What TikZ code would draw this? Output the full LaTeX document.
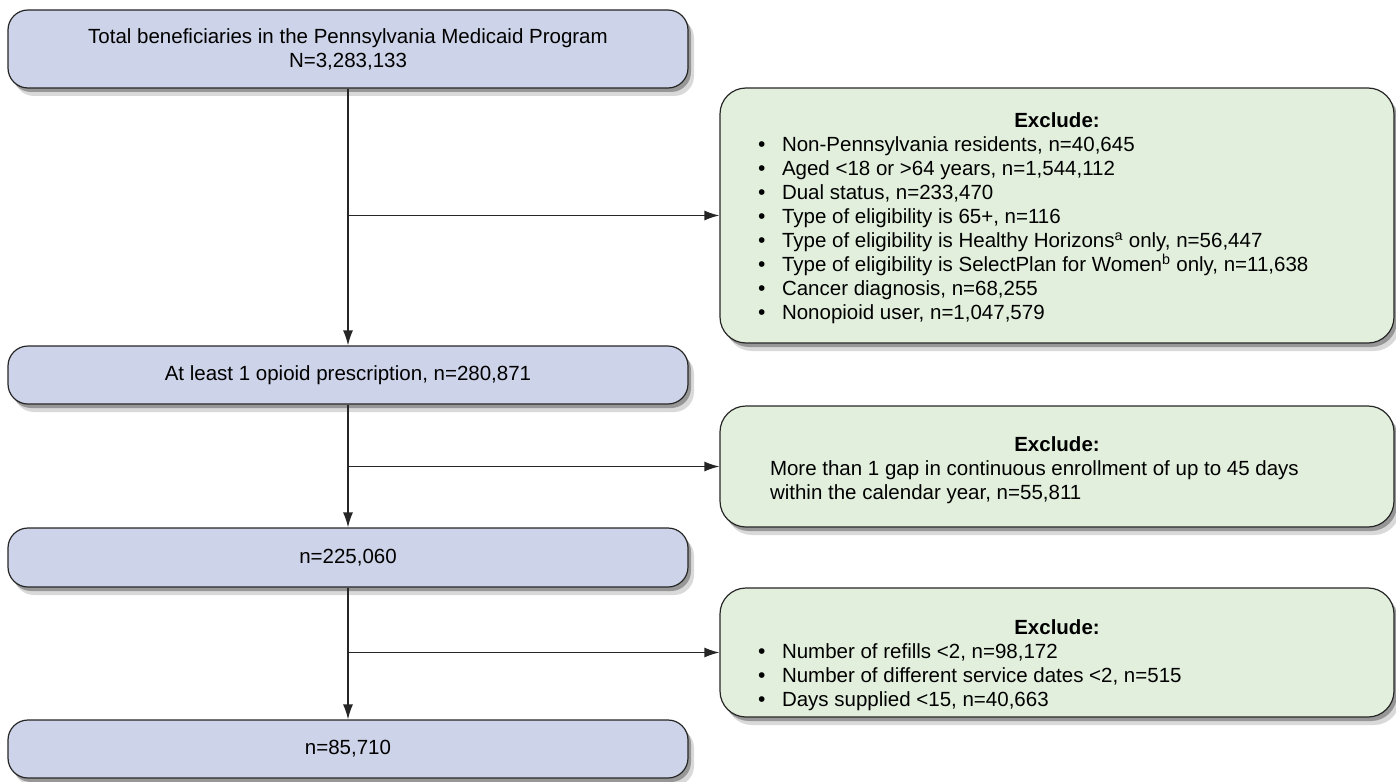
\documentclass[tikz,border=0pt]{standalone}
\usepackage{fontspec}
\setmainfont{Liberation Sans}
\usepackage{xcolor}
\usetikzlibrary{arrows.meta,shadows}

\definecolor{boxblue}{RGB}{205,211,232}
\definecolor{boxgreen}{RGB}{226,239,221}
\definecolor{edgegray}{RGB}{38,38,38}

\newcommand{\exitem}[1]{\makebox[598pt][l]{\makebox[24pt][l]{{\fontsize{21}{21}\selectfont\textbullet}}#1}}
\newcommand{\exline}[1]{\makebox[574pt][l]{#1}}

\begin{document}
\begin{tikzpicture}[x=1pt,y=-1pt,>={Latex[length=15pt,width=10pt]},
    every node/.style={font=\fontsize{20.5}{24}\selectfont},
    softshadow/.style={
      drop shadow={shadow xshift=3pt,shadow yshift=-4pt,fill=black,opacity=0.3},
      drop shadow={shadow xshift=6pt,shadow yshift=-8pt,fill=black,opacity=0.15}},
    flowbox/.style={draw=edgegray,line width=1.2pt,fill=boxblue,rounded corners=20pt,
      minimum width=680pt,inner sep=0pt,align=center,softshadow},
    exclbox/.style={draw=edgegray,line width=1.2pt,fill=boxgreen,rounded corners=26pt,
      minimum width=674pt,inner sep=0pt,align=center,softshadow},
    link/.style={draw=edgegray,line width=1.4pt}]
  \useasboundingbox (0,0) rectangle (1396,781);

  % main column
  \node[flowbox,minimum height=78pt] (total) at (348,49)
    {Total beneficiaries in the Pennsylvania Medicaid Program\\N=3,283,133};
  \node[flowbox,minimum height=58pt] (opioid) at (348,375)
    {At least 1 opioid prescription, n=280,871};
  \node[flowbox,minimum height=59pt] (enrolled) at (348,557.5)
    {n=225,060};
  \node[flowbox,minimum height=58pt] (final) at (348,749)
    {n=85,710};

  % exclusions
  \node[exclbox,minimum height=255pt] (excl1) at (1057,215.5)
    {\rule{0pt}{21pt}\textbf{Exclude:}\\
     \exitem{Non-Pennsylvania residents, n=40,645}\\
     \exitem{Aged <18 or >64 years, n=1,544,112}\\
     \exitem{Dual status, n=233,470}\\
     \exitem{Type of eligibility is 65+, n=116}\\
     \exitem{Type of eligibility is Healthy Horizons\textsuperscript{a} only, n=56,447}\\
     \exitem{Type of eligibility is SelectPlan for Women\textsuperscript{b} only, n=11,638}\\
     \exitem{Cancer diagnosis, n=68,255}\\
     \exitem{Nonopioid user, n=1,047,579}};
  \node[exclbox,minimum height=121pt] (excl2) at (1057,466.5)
    {\rule{0pt}{23pt}\textbf{Exclude:}\\
     \exline{More than 1 gap in continuous enrollment of up to 45 days}\\
     \exline{within the calendar year, n=55,811}};
  \node[exclbox,minimum height=129pt] (excl3) at (1057,652.5)
    {\rule{0pt}{40pt}\textbf{Exclude:}\\
     \exitem{Number of refills <2, n=98,172}\\
     \exitem{Number of different service dates <2, n=515}\\
     \exitem{Days supplied <15, n=40,663}};

  \coordinate (j1) at (total.south |- excl1.west);
  \coordinate (j2) at (opioid.south |- excl2.west);
  \coordinate (j3) at (enrolled.south |- excl3.west);

  \draw[link,->] (total) -- (opioid);
  \draw[link,->] (opioid) -- (enrolled);
  \draw[link,->] (enrolled) -- (final);
  \draw[link,->] (j1) -- (excl1);
  \draw[link,->] (j2) -- (excl2);
  \draw[link,->] (j3) -- (excl3);
\end{tikzpicture}
\end{document}
